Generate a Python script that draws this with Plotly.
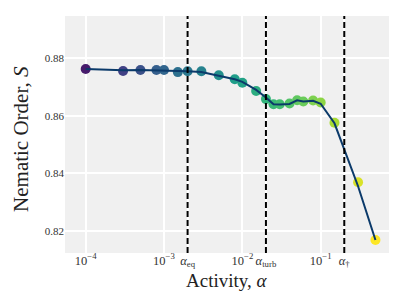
import plotly.graph_objects as go
import numpy as np

# Data
alpha = [1e-4, 3e-4, 5e-4, 8e-4, 1e-3, 1.5e-3, 2e-3, 3e-3, 5e-3, 8e-3, 1e-2,
         1.5e-2, 2e-2, 2.5e-2, 3e-2, 4e-2, 5e-2, 6e-2, 8e-2, 0.1, 0.15, 0.3, 0.5]
S_points = [0.8763, 0.8756, 0.8759, 0.8759, 0.8759, 0.8752, 0.8755, 0.8755,
            0.8741, 0.8727, 0.8715, 0.8686, 0.8658, 0.8640, 0.8640, 0.8643,
            0.8654, 0.8650, 0.8653, 0.8646, 0.8576, 0.8369, 0.8168]
S_line = [0.8763, 0.8758, 0.8759, 0.8758, 0.8757, 0.8756, 0.8755, 0.8752,
          0.8740, 0.8727, 0.8718, 0.8690, 0.8664, 0.8640, 0.8639, 0.8641,
          0.8654, 0.8650, 0.8652, 0.8642, 0.8574, 0.8355, 0.8168]

alpha_eq, alpha_turb, alpha_dag = 2e-3, 2e-2, 2e-1
tick_vals = [1e-4, 1e-3, alpha_eq, 1e-2, alpha_turb, 1e-1, alpha_dag]
tick_text = ["10<sup>−4</sup>", "10<sup>−3</sup>", "<i>α</i><sub>eq</sub>",
             "10<sup>−2</sup>", "<i>α</i><sub>turb</sub>", "10<sup>−1</sup>",
             "<i>α</i><sub>†</sub>"]
y_ticks = [0.82, 0.84, 0.86, 0.88]
x_title = "Activity, <i>α</i>"
y_title = "Nematic Order, <i>S</i>"

FONT = "Liberation Serif"

fig = go.Figure()
fig.add_trace(go.Scatter(
    x=alpha, y=S_points, mode="markers",
    marker=dict(size=10, color=np.log10(alpha), colorscale="Viridis",
                cmin=-4.3, cmax=-0.3, line=dict(width=0)),
    showlegend=False, hoverinfo="skip"))
fig.add_trace(go.Scatter(
    x=alpha, y=S_line, mode="lines",
    line=dict(color="#0b3a6a", width=2),
    showlegend=False, hoverinfo="skip"))

for a in [alpha_eq, alpha_turb, alpha_dag]:
    fig.add_shape(type="line", x0=a, x1=a, xref="x", y0=0, y1=1, yref="paper",
                  line=dict(color="black", width=2, dash="6px,3px"), layer="above")

# axis titles as annotations for exact placement
fig.add_annotation(text=x_title, xref="paper", yref="paper", x=0.5, y=-0.115,
                   xanchor="center", yanchor="middle", showarrow=False,
                   font=dict(size=19, color="#222222", family=FONT))
fig.add_annotation(text=y_title, xref="paper", yref="paper", x=-0.136, y=0.481,
                   xanchor="center", yanchor="middle", showarrow=False, textangle=-90,
                   font=dict(size=21, color="#222222", family=FONT))

fig.update_layout(
    width=407, height=305,
    margin=dict(l=57, r=26, t=8, b=60, autoexpand=False),
    paper_bgcolor="white", plot_bgcolor="#f0f0f0",
    font=dict(family=FONT, color="#222222"),
    xaxis=dict(type="log", range=[-4.264, -0.128],
               tickmode="array", tickvals=tick_vals, ticktext=tick_text,
               tickfont=dict(size=12.5, color="#333333"),
               ticklabelstandoff=-2,
               showgrid=True, gridcolor="white", gridwidth=1.5,
               zeroline=False, showline=False, ticks="",
               automargin=False),
    yaxis=dict(range=[0.8123, 0.8947], tickmode="array", tickvals=y_ticks,
               ticktext=[f"{v:.2f}" for v in y_ticks],
               tickfont=dict(size=11, color="#333333"),
               showgrid=True, gridcolor="white", gridwidth=1.5,
               zeroline=False, showline=False, ticks="",
               automargin=False),
)

fig.write_html("out.html")
